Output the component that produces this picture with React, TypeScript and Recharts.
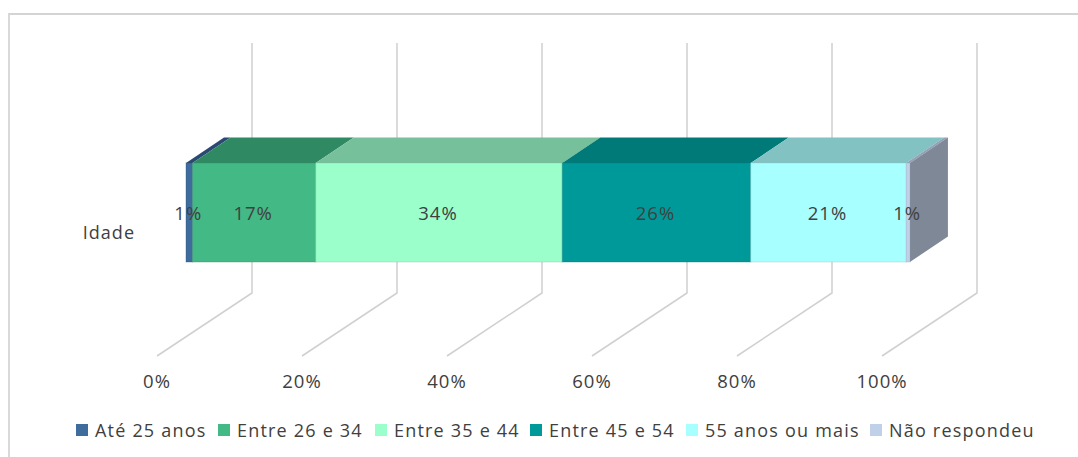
import React from "react"
import { BarChart, Bar, XAxis, YAxis, CartesianGrid, Legend, LabelList } from "recharts"

const categories = ["Idade"]
const seriesNames = ["Até 25 anos", "Entre 26 e 34", "Entre 35 e 44", "Entre 45 e 54", "55 anos ou mais", "Não respondeu"]
const seriesValues = [0.009, 0.17, 0.34, 0.26, 0.2145, 0.005]
const xTicks = [0, 0.2, 0.4, 0.6, 0.8, 1]

const frontColors = ["#3e6c9c", "#43b985", "#9bffcb", "#009999", "#a8ffff", "#c0d0e8"]
const topColors = ["#2a4a73", "#2f8a63", "#76c09b", "#007a78", "#82c2c2", "#93a0b8"]
const SIDE_COLOR = "#7f8896"

const FONT = "'Open Sans', sans-serif"
const TEXT = "#404040"
const GRID = "#d0d0d0"

// wall / floor projection of the fake 3D box
const WALL_DX = 95
const WALL_DY = 63
// bar front face offset, and bar depth
const FRONT_DX = 29
const FRONT_DY = 18.5
const DEPTH_DX = 38
const DEPTH_DY = 25.5

const data = categories.map((name) => {
  const row: Record<string, string | number> = { name }
  seriesNames.forEach((s, i) => {
    row[s] = seriesValues[i]
  })
  return row
})

const GridLine = (props: any) => {
  const { x1, y1, y2 } = props
  return (
    <path
      d={`M${x1} ${y2} L${x1 + WALL_DX} ${y2 - WALL_DY} L${x1 + WALL_DX} ${y1 - WALL_DY}`}
      fill="none"
      stroke={GRID}
      strokeWidth={1.5}
    />
  )
}

const makeShape = (index: number) => (props: any) => {
  const { x, y, width, height } = props
  const fx = x + FRONT_DX
  const fy = y - FRONT_DY
  const top = `${fx},${fy} ${fx + width},${fy} ${fx + width + DEPTH_DX},${fy - DEPTH_DY} ${fx + DEPTH_DX},${fy - DEPTH_DY}`
  const side = `${fx + width},${fy} ${fx + width + DEPTH_DX},${fy - DEPTH_DY} ${fx + width + DEPTH_DX},${fy + height - DEPTH_DY} ${fx + width},${fy + height}`
  return (
    <g>
      <polygon points={top} fill={topColors[index]} />
      {index === seriesNames.length - 1 && <polygon points={side} fill={SIDE_COLOR} />}
      <rect x={fx} y={fy} width={width} height={height} fill={frontColors[index]} stroke={topColors[index]} strokeOpacity={0.35} />
    </g>
  )
}

const PercentLabel = (props: any) => {
  const { x, y, width, height, value } = props
  return (
    <text
      x={x + width / 2 + FRONT_DX - 1}
      y={y + height / 2 - FRONT_DY}
      textAnchor="middle"
      dominantBaseline="central"
      fontFamily={FONT}
      fontSize={18.5}
      letterSpacing={1}
      fill={TEXT}
    >
      {`${Math.round(value * 100)}%`}
    </text>
  )
}

const legendLefts = [76, 218, 375, 530, 686, 870]

const ChartLegend = ({ payload }: any) => (
  <div style={{ position: "relative", width: 1078, height: 24, fontFamily: FONT, fontSize: 18, letterSpacing: 1.2, color: TEXT }}>
    {(payload || []).map((item: any, i: number) => (
      <div key={item.value} style={{ position: "absolute", left: legendLefts[i], top: 0, display: "flex", alignItems: "center", height: 24, whiteSpace: "nowrap" }}>
        <span style={{ width: 12, height: 12, marginRight: 7, background: frontColors[i] }} />
        {item.value}
      </div>
    ))}
  </div>
)

export default function App() {
  return (
    <div style={{ position: "absolute", left: 0, top: 0, width: 1078, height: 457, background: "#fff", overflow: "hidden" }}>
      <div style={{ position: "absolute", left: 8, top: 13, width: 1070, height: 444, borderLeft: "2px solid #d9d9d9", borderTop: "2px solid #d4d4d4", boxSizing: "border-box" }} />
      <BarChart
        width={1078}
        height={457}
        data={data}
        layout="vertical"
        barCategoryGap={75.5}
        margin={{ top: 106, right: 196, bottom: 37, left: 57 }}
        style={{ position: "absolute", left: 0, top: 0 }}
      >
        <CartesianGrid horizontal={false} vertical={GridLine} />
        <XAxis
          type="number"
          domain={[0, 1]}
          ticks={xTicks}
          tickFormatter={(v: number) => `${Math.round(v * 100)}%`}
          axisLine={false}
          tickLine={false}
          tickMargin={13}
          height={40}
          tick={{ fontSize: 18.5, letterSpacing: 1, fontFamily: FONT, fill: TEXT }}
        />
        <YAxis
          type="category"
          dataKey="name"
          axisLine={false}
          tickLine={false}
          width={100}
          tickMargin={16}
          dy={2}
          tick={{ fontSize: 18, letterSpacing: 1, fontFamily: FONT, fill: TEXT }}
        />
        <Legend
          content={<ChartLegend />}
          itemSorter={null}
          wrapperStyle={{ left: 0, top: 418, width: 1078 }}
        />
        {seriesNames.map((s, i) => (
          <Bar key={s} dataKey={s} name={s} stackId="a" fill={frontColors[i]} isAnimationActive={false} shape={makeShape(i)}>
            <LabelList dataKey={s} content={PercentLabel} />
          </Bar>
        ))}
      </BarChart>
    </div>
  )
}
